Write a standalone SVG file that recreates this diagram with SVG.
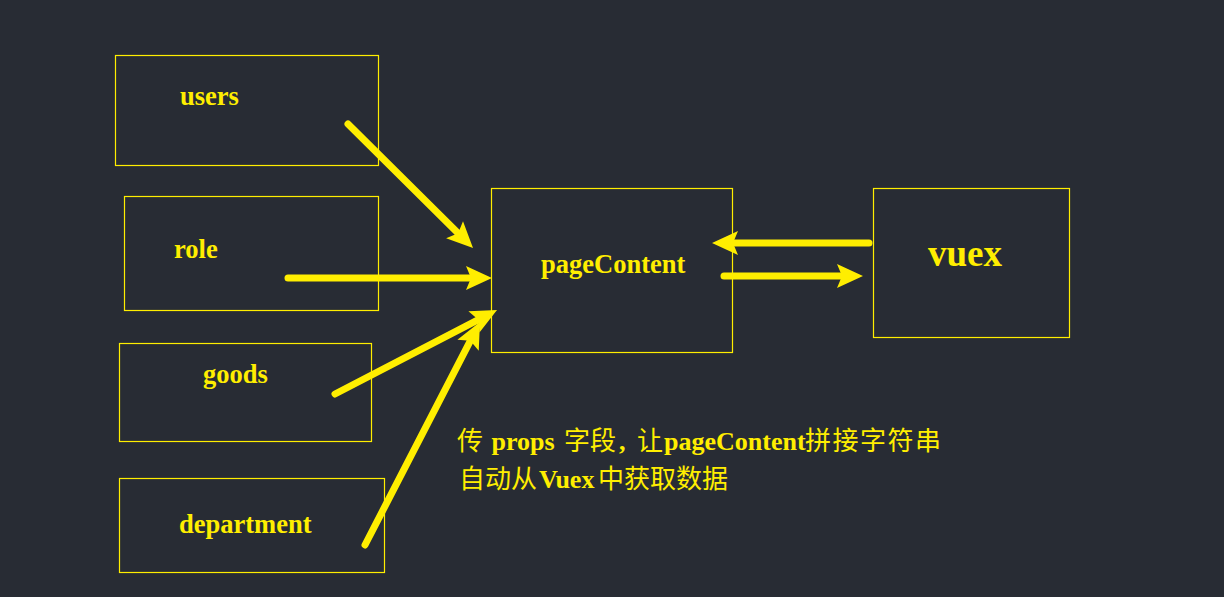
<svg xmlns="http://www.w3.org/2000/svg" width="1224" height="597" viewBox="0 0 1224 597">
<style>
.box{fill:none;stroke:#ffee00;stroke-width:1.2}
.lbl{font-family:"Liberation Serif","Times New Roman",serif;font-weight:bold;font-size:26.5px;fill:#ffee00}
.big{font-size:37px}
.conn{stroke:#ffee00;stroke-width:7;stroke-linecap:round;fill:none}
.note{font-size:26px;fill:#ffee00}
.lat{font-family:"Liberation Serif","Times New Roman",serif;font-weight:bold}
.cjk{font-family:"Noto Sans CJK SC","Noto Sans CJK JP",sans-serif;font-weight:normal;font-size:26px}
</style>
<defs>
<marker id="ah" markerUnits="userSpaceOnUse" markerWidth="30" markerHeight="26" viewBox="0 -13 28 26" refX="4" refY="0" orient="auto">
<path d="M0,-12 L26,0 L0,12 L5,0 Z" fill="#ffee00"/>
</marker>
</defs>
<rect width="1224" height="597" fill="#282c34"/>
<g id="users"><rect class="box" x="115.5" y="55.5" width="263" height="110"/><text class="lbl" x="180" y="105">users</text></g>
<g id="role"><rect class="box" x="124.5" y="196.5" width="254" height="114"/><text class="lbl" x="174" y="258">role</text></g>
<g id="goods"><rect class="box" x="119.5" y="343.5" width="252" height="98"/><text class="lbl" x="203" y="383">goods</text></g>
<g id="department"><rect class="box" x="119.5" y="478.5" width="265" height="94"/><text class="lbl" x="179" y="533">department</text></g>
<g id="pageContent"><rect class="box" x="491.5" y="188.5" width="241" height="164"/><text class="lbl" x="541" y="273">pageContent</text></g>
<g id="vuex"><rect class="box" x="873.5" y="188.5" width="196" height="149"/><text class="lbl big" x="928" y="266">vuex</text></g>
<g id="connectors">
<line class="conn" x1="348" y1="124" x2="457.4" y2="232.5" marker-end="url(#ah)"/>
<line class="conn" x1="288" y1="278" x2="470" y2="278" marker-end="url(#ah)"/>
<line class="conn" x1="335" y1="394" x2="477.5" y2="320.1" marker-end="url(#ah)"/>
<line class="conn" x1="365" y1="545" x2="469.9" y2="341.6" marker-end="url(#ah)"/>
<line class="conn" x1="869" y1="243" x2="734" y2="243" marker-end="url(#ah)"/>
<line class="conn" x1="724" y1="276" x2="841" y2="276" marker-end="url(#ah)"/>
</g>
<g id="note">
<text class="note" y="450"><tspan class="cjk" x="457">传</tspan><tspan class="lat" x="491.5">props</tspan><tspan class="cjk" x="564">字段</tspan><tspan class="lat" x="619">,</tspan><tspan class="cjk" x="637">让</tspan><tspan class="lat" x="664">pageContent</tspan><tspan class="cjk" x="805" style="letter-spacing:1.5px">拼接字符串</tspan></text>
<text class="note" y="488"><tspan class="cjk" x="459">自动从</tspan><tspan class="lat" x="539">Vuex</tspan><tspan class="cjk" x="598">中获取数据</tspan></text>
</g>
</svg>
